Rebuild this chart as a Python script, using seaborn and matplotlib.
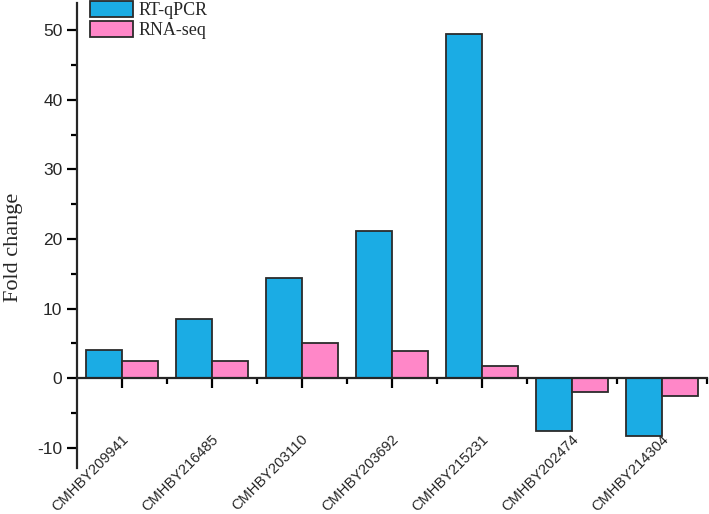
import pandas as pd
import matplotlib.pyplot as plt
import matplotlib.transforms as mtransforms
from matplotlib.patches import Patch
from matplotlib.ticker import MultipleLocator, FixedLocator
import seaborn as sns

# data
genes = ['CMHBY209941', 'CMHBY216485', 'CMHBY203110', 'CMHBY203692',
         'CMHBY215231', 'CMHBY202474', 'CMHBY214304']
rt_qpcr = [4.0, 8.5, 14.4, 21.2, 49.4, -7.6, -8.3]
rna_seq = [2.5, 2.5, 5.1, 3.9, 1.8, -2.0, -2.6]
methods = ['RT-qPCR', 'RNA-seq']
colors = {'RT-qPCR': '#1BACE4', 'RNA-seq': '#FF87C8'}

df = pd.DataFrame({
    'Gene': genes * 2,
    'Method': [methods[0]] * len(genes) + [methods[1]] * len(genes),
    'Fold change': rt_qpcr + rna_seq,
})

sns.set_style('ticks')
plt.rcParams['font.family'] = ['Liberation Sans', 'DejaVu Sans']
plt.rcParams['axes.unicode_minus'] = False

fig = plt.figure(figsize=(7.09, 5.14), dpi=100)
ax = fig.add_axes([0.1086, 0.0895, 0.8884, 0.9045])

sns.barplot(data=df, x='Gene', y='Fold change', hue='Method', order=genes,
            hue_order=methods, palette=colors, width=0.8, saturation=1,
            edgecolor='#2b2b2b', linewidth=1.3, errorbar=None, legend=False, ax=ax)

ax.set_xlim(-0.5, len(genes) - 0.5)
ax.set_ylim(-12.9, 53.9)

# spines: x axis through zero
for s in ['top', 'right']:
    ax.spines[s].set_visible(False)
ax.spines['bottom'].set_position(('data', 0))
ax.spines['bottom'].set_linewidth(1.6)
ax.spines['left'].set_linewidth(1.6)

ax.yaxis.set_major_locator(MultipleLocator(10))
ax.yaxis.set_minor_locator(MultipleLocator(5))
ax.xaxis.set_minor_locator(FixedLocator([i + 0.5 for i in range(len(genes))]))
ax.tick_params(axis='both', which='major', direction='out', length=7.5, width=1.6, color='black')
ax.tick_params(axis='both', which='minor', direction='out', length=4, width=1.6, color='black')
ax.tick_params(axis='y', labelsize=12.5, pad=3)
ax.tick_params(axis='x', labelsize=10.5, pad=35)

ax.set_xticks(range(len(genes)))
ax.set_xticklabels(genes, rotation=45, ha='right', va='center', rotation_mode='anchor')
shift = mtransforms.ScaledTranslation(3 / 72, 0, fig.dpi_scale_trans)
for lbl in ax.get_xticklabels():
    lbl.set_transform(lbl.get_transform() + shift)

ax.set_xlabel('')
ax.set_ylabel('Fold change', family=['Liberation Serif', 'DejaVu Serif'], fontsize=16)
ax.yaxis.set_label_coords(-0.086, 0.475)

handles = [Patch(facecolor=colors[m], edgecolor='#2b2b2b', linewidth=1.3, label=m) for m in methods]
ax.legend(handles=handles, loc='upper left', bbox_to_anchor=(0.02, 1.005), frameon=False,
          prop={'family': ['Liberation Serif', 'DejaVu Serif'], 'size': 13},
          handlelength=2.4, handleheight=1.0, handletextpad=0.3, labelspacing=0.1,
          borderpad=0, borderaxespad=0)

fig.savefig('out.png', dpi=100)
